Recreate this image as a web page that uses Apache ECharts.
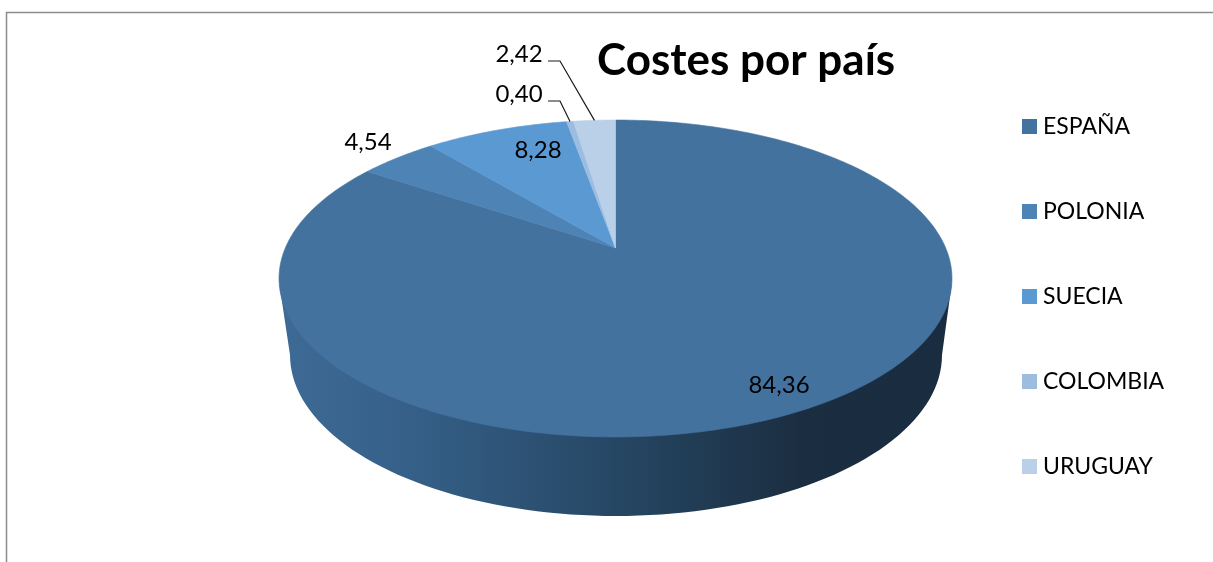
<!DOCTYPE html>
<html><head><meta charset="utf-8">
<style>html,body{margin:0;padding:0;background:#fff}#c{width:1213px;height:562px}</style>
<script src="https://cdn.jsdelivr.net/npm/echarts@6/dist/echarts.min.js"></script>
</head><body><div id="c"></div>
<script>
const categories = ['ESPAÑA','POLONIA','SUECIA','COLOMBIA','URUGUAY'];
const costs = [84.36,4.54,8.28,0.40,2.42];
const labelTexts = ['84,36','4,54','8,28','0,40','2,42'];
const colours = ['#44729f','#4e83b5','#5b99d3','#9dbde0','#bacfe8'];

const FONT = 'Lato';
// Perspective projection of the pie disc
const CX=615.5, AY=248, A=152.6, B=330.2, C=-0.1924;
const total = costs.reduce((s,v)=>s+v,0);
function rim(frac,r){
  const t=frac*2*Math.PI, u=r*Math.sin(t), v=-r*Math.cos(t), d=1+C*v;
  return [CX+B*u/d, AY+A*v/d];
}
const labelPos = [[779,385],[368,142],[538,150],[519,94],[519,54]];
const leaderFrom = [null,null,null,[548,101],[548,61]];

function sidePoints(){
  const pts=[[279.5,285]];
  for(let a=180;a>=0;a-=2){
    const t=a*Math.PI/180;
    pts.push([616+326*Math.cos(t),355+161*Math.sin(t)]);
  }
  pts.push([951.5,285]);
  return pts;
}
const sideFill={type:'linear',x:285,y:0,x2:945,y2:0,global:true,colorStops:[
  {offset:0,color:'#3d6a95'},{offset:0.2,color:'#355f87'},{offset:0.5,color:'#264764'},
  {offset:0.78,color:'#1b2e41'},{offset:1,color:'#1a2c3f'}]};

function makeRender(i){
  const before=costs.slice(0,i).reduce((s,v)=>s+v,0);
  return function(params,api){
    const val=api.value(0), f0=before/total, f1=(before+val)/total;
    const pts=[[CX,AY]], n=Math.max(2,Math.ceil((f1-f0)*360));
    for(let k=0;k<=n;k++) pts.push(rim(f0+(f1-f0)*k/n,1));
    const children=[];
    if(i===0) children.push({type:'polygon',z2:1,shape:{points:sidePoints()},style:{fill:sideFill}});
    children.push({type:'polygon',z2:2,shape:{points:pts},style:{fill:colours[i],stroke:colours[i],lineWidth:0.6}});
    if(leaderFrom[i]){
      const e=rim((f0+f1)/2,1), s=leaderFrom[i];
      children.push({type:'polyline',z2:3,shape:{points:[s,[s[0]+12,s[1]],e]},style:{fill:null,stroke:'#1a1a1a',lineWidth:1.2}});
    }
    children.push({type:'text',z2:4,x:labelPos[i][0],y:labelPos[i][1],style:{text:labelTexts[i],fill:'#000',font:'24px '+FONT,align:'center',verticalAlign:'middle'}});
    return {type:'group',children};
  };
}

const chart=echarts.init(document.getElementById('c'),null,{renderer:'canvas'});
chart.setOption({
  animation:false,
  backgroundColor:'#fff',
  title:{text:'Costes por país',left:597,top:39,padding:0,textStyle:{fontFamily:FONT,fontWeight:'bold',fontSize:44,color:'#000'}},
  legend:{orient:'vertical',left:1022,top:115,padding:0,icon:'rect',itemWidth:15,itemHeight:15,itemGap:62,
    selectedMode:false,data:categories,textStyle:{fontFamily:FONT,fontSize:23,color:'#000',padding:[0,0,0,1]}},
  graphic:[{type:'polyline',silent:true,shape:{points:[[6.5,562],[6.5,12.5],[1213,12.5]]},style:{fill:null,stroke:'#8c8c8c',lineWidth:1.5}}],
  series:categories.map((name,i)=>({
    type:'custom',name,coordinateSystem:'none',silent:true,clip:false,z:i+2,
    itemStyle:{color:colours[i]},
    renderItem:makeRender(i),
    data:[[costs[i]]]
  }))
});
</script></body></html>
